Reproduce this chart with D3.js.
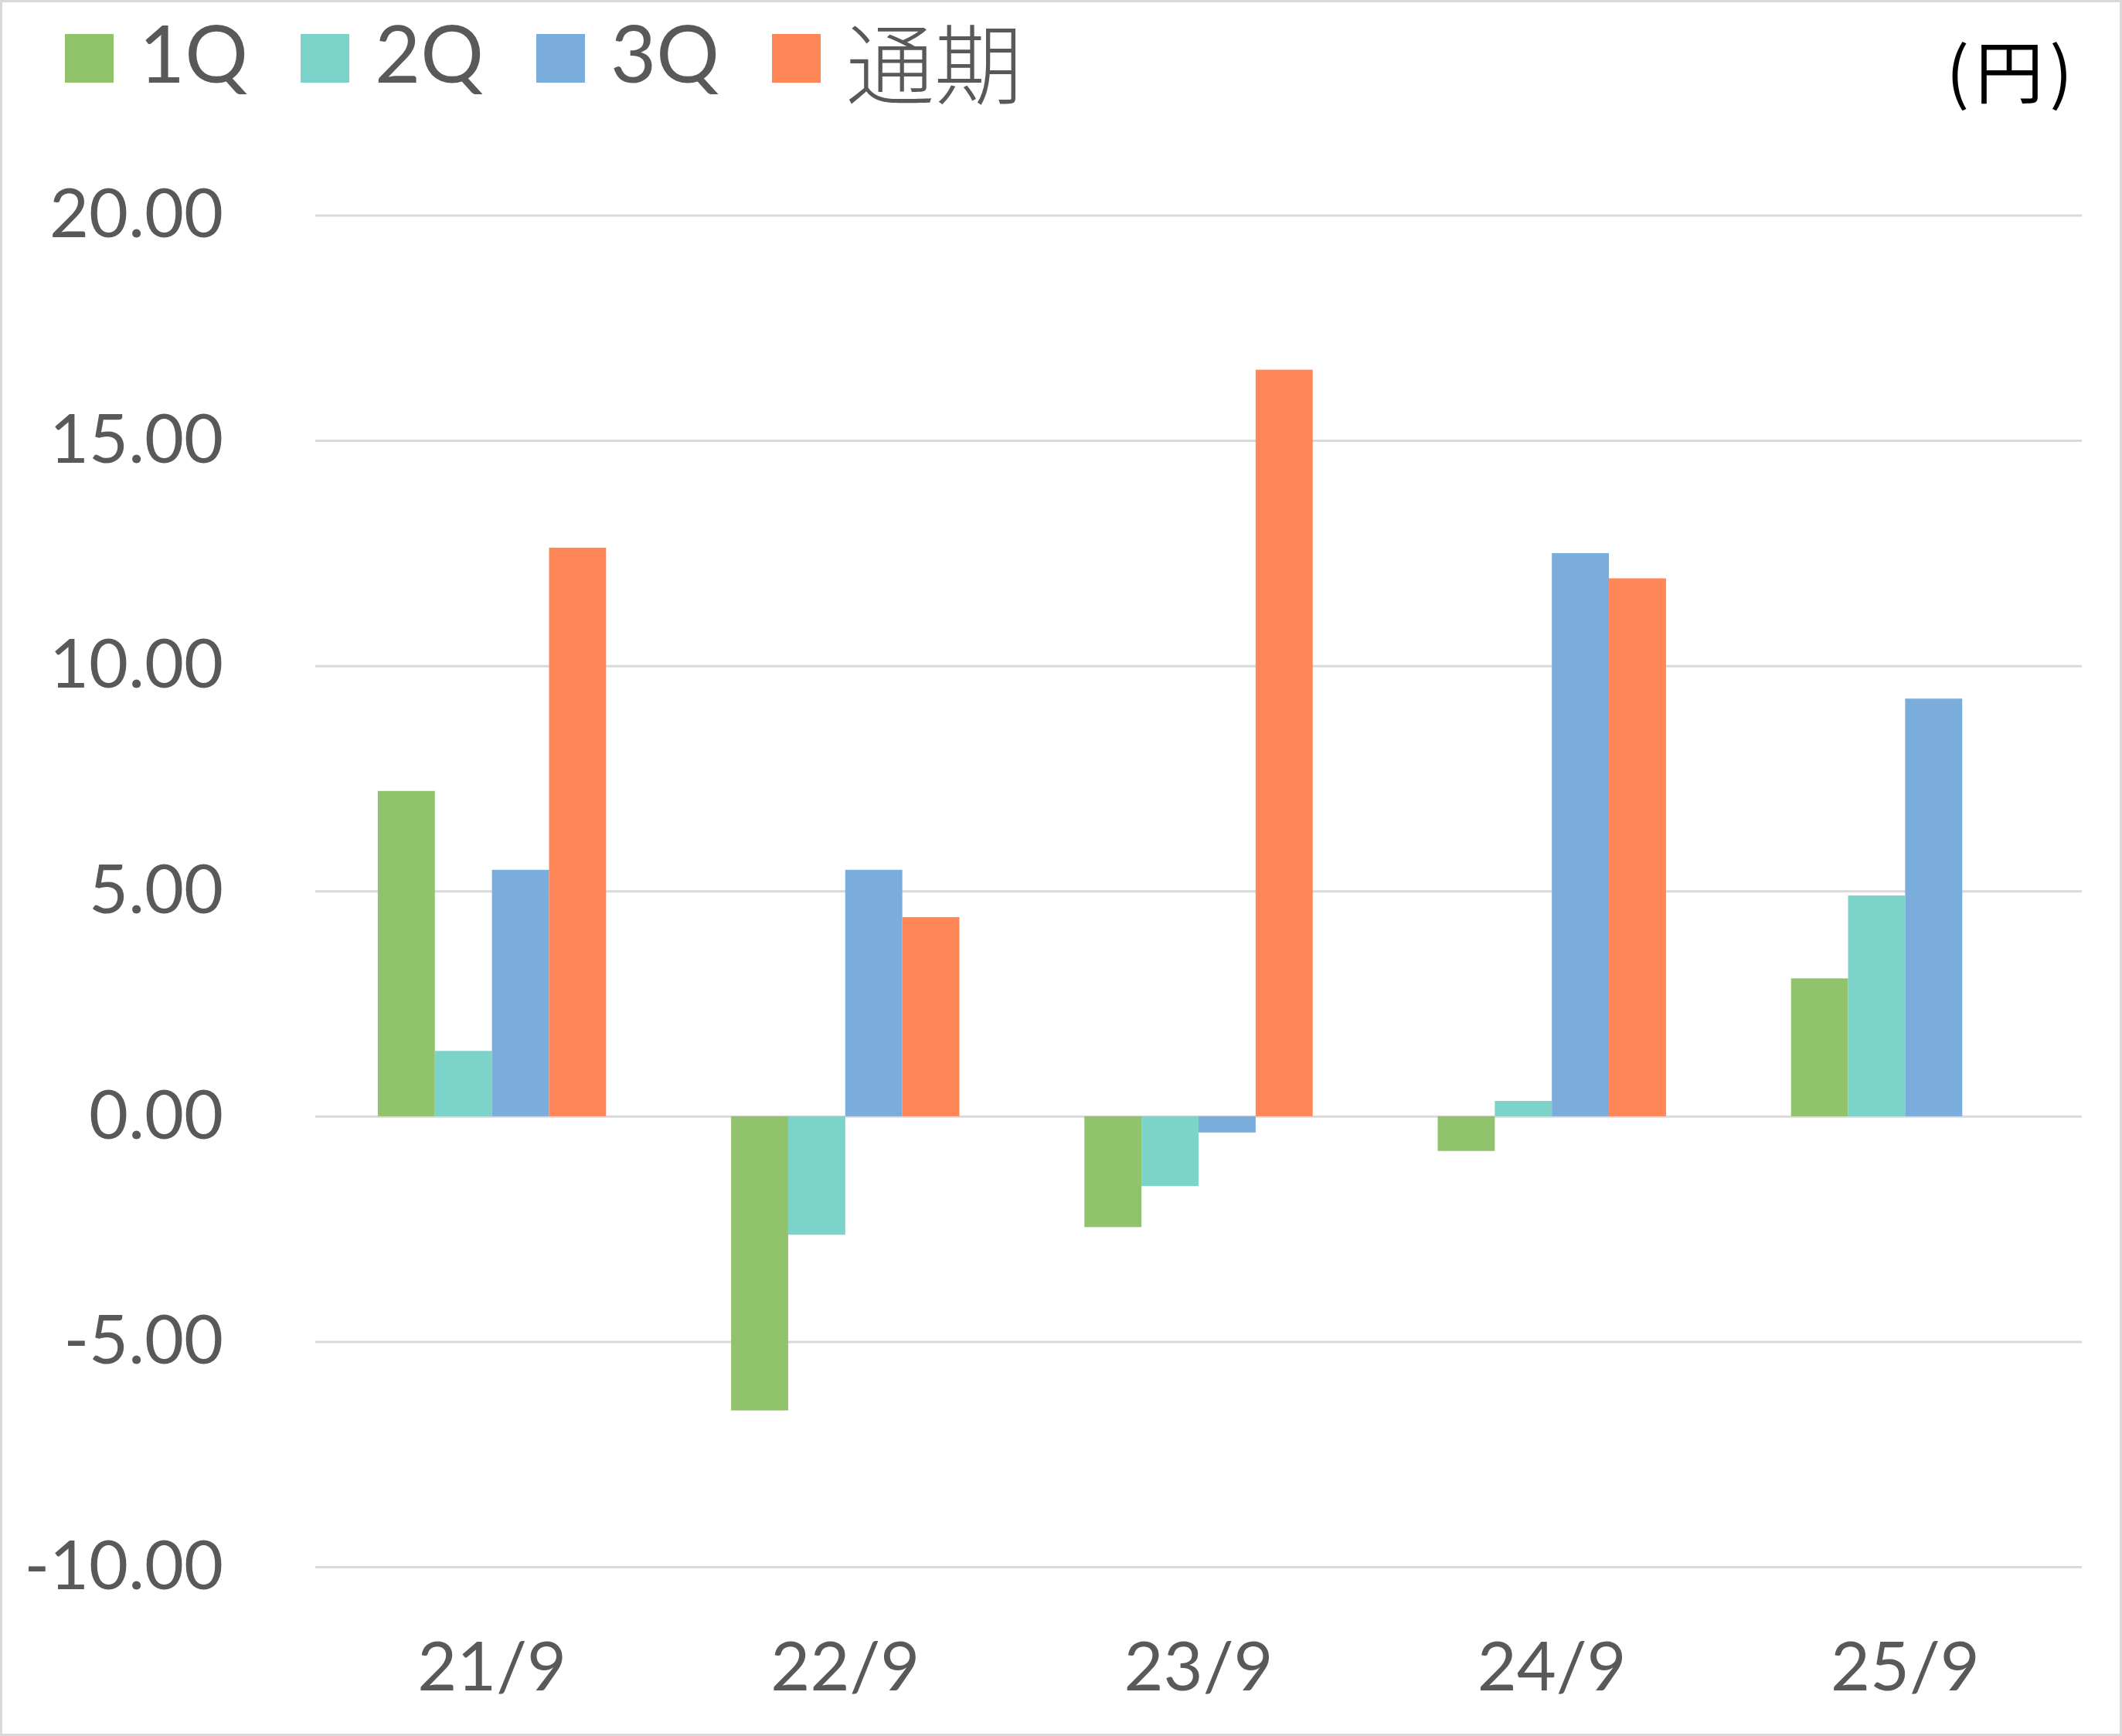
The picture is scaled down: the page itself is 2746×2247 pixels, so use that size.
<!DOCTYPE html>
<html>
<head>
<meta charset="utf-8">
<script src="https://cdn.jsdelivr.net/npm/d3@7"></script>
<style>
  body { margin: 0; background: #fff; }
</style>
</head>
<body>
<div id="chart"></div>
<script>
// Données
const categories = ["21/9", "22/9", "23/9", "24/9", "25/9"];
const seriesNames = ["1Q", "2Q", "3Q", "通期"];
const q1 = [7.22, -6.53, -2.46, -0.77, 3.06];
const q2 = [1.45, -2.63, -1.55, 0.34, 4.90];
const q3 = [5.47, 5.47, -0.36, 12.50, 9.27];
const fullYear = [12.62, 4.42, 16.57, 11.94, null];
const yTicks = [-10, -5, 0, 5, 10, 15, 20];
const unitLabel = "(円)";

const colors = ["#90c36c", "#7bd3c9", "#7aacdc", "#ff8757"];
const seriesValues = [q1, q2, q3, fullYear];

// Taille
const W = 2746, H = 2247;
const plot = { left: 408, right: 2694, top: 278.5, bottom: 2028 };

const svg = d3.select("#chart").append("svg")
    .attr("width", W)
    .attr("height", H);

// Cadre
svg.append("rect")
    .attr("x", 1.5).attr("y", 1.5)
    .attr("width", W - 3).attr("height", H - 3)
    .attr("fill", "#fff")
    .attr("stroke", "#d9d9d9")
    .attr("stroke-width", 3);

// Echelles
const y = d3.scaleLinear().domain([-10, 20]).range([plot.bottom, plot.top]);
const x0 = d3.scaleBand().domain(categories).range([plot.left, plot.right]).padding(0);
const bw = x0.bandwidth();
const gap = bw * 2.19 / 6.19;
const x1 = d3.scaleBand().domain(seriesNames).range([gap / 2, bw - gap / 2]).padding(0);

// format avec un tiret simple comme dans Excel
const fmt = d => d3.format(".2f")(d).replace("−", "-");

// Axe Y + grille
const yAxis = svg.append("g")
    .attr("transform", `translate(${plot.left},0)`)
    .call(d3.axisLeft(y)
        .tickValues(yTicks)
        .tickSize(-(plot.right - plot.left))
        .tickPadding(119)
        .tickFormat(fmt));
yAxis.select(".domain").remove();
yAxis.selectAll(".tick line")
    .attr("stroke", "#d9d9d9")
    .attr("stroke-width", 3);
yAxis.selectAll(".tick text")
    .attr("fill", "#595959")
    .style("font-family", "Lato, 'Open Sans', sans-serif")
    .style("font-size", "88px");

// Barres
const rows = [];
categories.forEach((c, i) => {
    seriesNames.forEach((s, j) => {
        const v = seriesValues[j][i];
        if (v !== null && v !== undefined) rows.push({ cat: c, name: s, value: v, color: colors[j] });
    });
});

svg.append("g").selectAll("rect")
    .data(rows)
    .join("rect")
    .attr("x", d => x0(d.cat) + x1(d.name))
    .attr("width", x1.bandwidth())
    .attr("y", d => y(Math.max(0, d.value)))
    .attr("height", d => Math.abs(y(d.value) - y(0)))
    .attr("fill", d => d.color);

// Axe X
const xAxis = svg.append("g")
    .attr("transform", `translate(0,${plot.bottom})`)
    .call(d3.axisBottom(x0).tickSize(0));
xAxis.select(".domain").remove();
xAxis.selectAll(".tick text")
    .attr("y", 160)
    .attr("dy", 0)
    .attr("fill", "#595959")
    .style("font-family", "Lato, 'Open Sans', sans-serif")
    .style("font-size", "88px");

// Légende
const legend = svg.append("g");
const items = legend.selectAll("g")
    .data(seriesNames)
    .join("g")
    .attr("transform", (d, i) => `translate(${84 + i * 305},0)`);

items.append("rect")
    .attr("x", 0).attr("y", 44)
    .attr("width", 63).attr("height", 63)
    .attr("fill", (d, i) => colors[i]);

items.append("text")
    .attr("x", 96)
    .attr("y", d => /Q/.test(d) ? 107 : 126)
    .attr("fill", "#595959")
    .style("font-family", d => /Q/.test(d) ? "Lato, sans-serif" : "'Noto Sans CJK JP', sans-serif")
    .style("font-weight", d => /Q/.test(d) ? 400 : 300)
    .style("font-size", d => /Q/.test(d) ? "102px" : "114px")
    .text(d => d);

// Unité
svg.append("text")
    .attr("x", 2690)
    .attr("y", 126)
    .attr("text-anchor", "end")
    .attr("fill", "#000")
    .style("font-family", "'Noto Sans CJK JP', sans-serif")
    .style("font-size", "88px")
    .style("letter-spacing", "8px")
    .text(unitLabel);
</script>
</body>
</html>
